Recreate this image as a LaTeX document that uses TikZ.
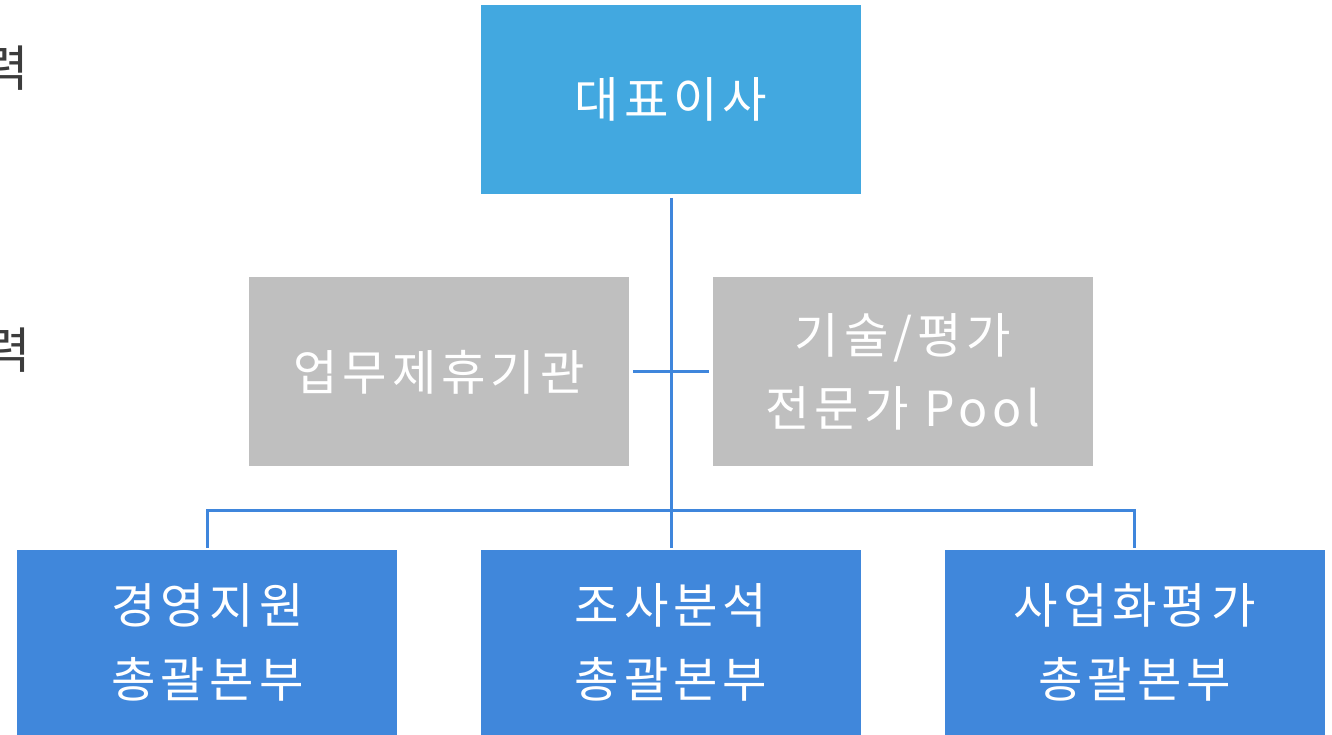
\documentclass[tikz,border=0pt]{standalone}
\usepackage{fontspec}
\setmainfont{Noto Sans CJK KR}
\newfontfamily\kofont[LetterSpace=10]{Noto Sans CJK KR}
\newfontfamily\edgefont{Noto Sans CJK KR}
\usepackage{tikz}
\usetikzlibrary{positioning, calc}
\definecolor{topblue}{RGB}{66,168,224}
\definecolor{unitblue}{RGB}{64,135,219}
\definecolor{linkblue}{RGB}{63,134,220}
\definecolor{boxgray}{RGB}{191,191,191}
\definecolor{edgetext}{RGB}{60,60,60}

\begin{document}
\begin{tikzpicture}[node distance=1.66cm]
    % Define styles
    \tikzstyle{block} = [rectangle, text=white, font=\kofont\fontsize{27.5}{42}\selectfont,
                          align=center, minimum width=7.6cm, inner sep=0pt]
    \tikzstyle{head} = [block, fill=topblue, minimum height=3.78cm]
    \tikzstyle{side} = [block, fill=boxgray, minimum height=3.78cm]
    \tikzstyle{unit} = [block, fill=unitblue, minimum height=3.7cm]
    \tikzstyle{link} = [draw=linkblue, line width=1.7pt]

    \useasboundingbox (0,0) rectangle (26.64,-14.68);

    % cut-off text at the left edge
    \node[text=edgetext, font=\edgefont\fontsize{28}{30}\selectfont] (cutA) at (0.12,-1.36) {력};
    \node[text=edgetext, font=\edgefont\fontsize{28}{30}\selectfont] (cutB) at (0.16,-7.0) {력};

    % Create blocks
    \node[head] (ceo) at (13.42,-1.99) {대표이사};
    \coordinate[below=3.55cm of ceo.south] (hub);
    \node[side, left=0.83cm of hub] (partner) {업무제휴기관};
    \node[side, right=0.83cm of hub] (expert) {기술/평가\\전문가 Pool};

    \coordinate (row) at (ceo |- partner.south);
    \node[unit, below=of row, anchor=north] (research) {조사분석\\총괄본부};
    \node[unit, left=of research] (admin) {경영지원\\총괄본부};
    \node[unit, right=of research] (business) {사업화평가\\총괄본부};

    % Draw connectors
    \draw[link, shorten <=2pt, shorten >=1pt] (ceo.south) -- (research.north);
    \draw[link, shorten <=2pt, shorten >=2pt] (partner.east) -- (expert.west);
    \draw[link, shorten <=1pt, shorten >=1pt] (admin.north) -- ++(0,0.78) -| (business.north);
\end{tikzpicture}
\end{document}
